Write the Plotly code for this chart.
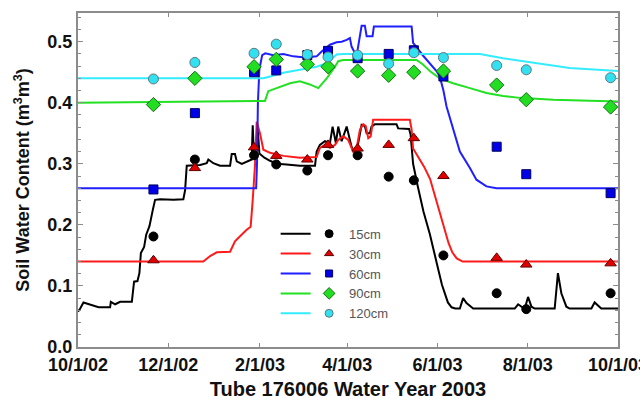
import pandas as pd
import plotly.graph_objects as go

START = pd.Timestamp("2002-10-01")
FONT = "Arial, 'Liberation Sans', sans-serif"

# ---------------- observed (neutron probe) values ----------------
obs_dates = ["2002-11-21", "2002-12-19", "2003-01-28", "2003-02-12", "2003-03-05",
             "2003-03-19", "2003-04-08", "2003-04-29", "2003-05-16", "2003-06-05",
             "2003-07-11", "2003-07-31", "2003-09-26"]
obs_15 = [0.181, 0.307, 0.314, 0.299, 0.289, 0.314, 0.314, 0.279, 0.273, 0.150, 0.088, 0.062, 0.088]
obs_30 = [0.142, 0.293, 0.327, 0.313, 0.307, 0.331, 0.325, 0.331, 0.342, 0.280, 0.146, 0.135, 0.137]
obs_60 = [0.258, 0.383, 0.450, 0.453, 0.478, 0.485, 0.473, 0.480, 0.486, 0.443, 0.328, 0.283, 0.252]
obs_90 = [0.397, 0.440, 0.459, 0.471, 0.463, 0.459, 0.452, 0.445, 0.450, 0.452, 0.429, 0.405, 0.393]
obs_120 = [0.439, 0.466, 0.481, 0.496, 0.479, 0.475, 0.478, 0.464, 0.482, 0.474, 0.461, 0.454, 0.441]

# ---------------- simulated series (day offset from 10/1/02, value) ----------------
days_15 = [0, 1.5, 3.7, 8.2, 13.9, 21.7, 22.2, 25.1, 28.5, 36.4, 37.1, 37.9, 40.2, 41.5, 42.5,
           44.7, 46.1, 48.3, 50.6, 52.1, 55.5, 64.5, 71.2, 72.4, 73.5, 76.9, 82.5, 87.0, 88.1,
           91.5, 96.0, 102.8, 103.9, 106.1, 107.3, 110.7, 114.0, 117.4, 118.1, 118.9, 120.3,
           121.4, 122.6, 126.0, 129.8, 134.3, 141.0, 150.0, 160.2, 161.3, 163.5, 166.9, 170.3,
           172.1, 174.3, 175.9, 178.2, 181.6, 184.9, 187.9, 189.4, 191.7, 193.9, 195.1, 197.3,
           198.4, 200.7, 215.3, 216.4, 223.8, 224.8, 225.9, 226.5, 229.5, 233.5, 237.8, 241.0,
           244.0, 246.0, 248.0, 250.0, 252.5, 255.0, 258.1, 260.3, 262.6, 267.1, 295.2, 297.5,
           299.8, 302.0, 304.2, 306.5, 308.7, 322.2, 324.4, 326.7, 330.1, 332.3, 347.0, 349.2,
           353.7, 365]
vals_15 = [0.058, 0.063, 0.073, 0.070, 0.065, 0.065, 0.074, 0.070, 0.074, 0.074, 0.087, 0.107,
           0.108, 0.121, 0.154, 0.164, 0.184, 0.198, 0.225, 0.241, 0.242, 0.241, 0.242, 0.257,
           0.297, 0.297, 0.298, 0.301, 0.307, 0.301, 0.297, 0.297, 0.316, 0.316, 0.304, 0.300,
           0.304, 0.307, 0.363, 0.311, 0.330, 0.360, 0.317, 0.310, 0.305, 0.300, 0.299, 0.297,
           0.297, 0.320, 0.331, 0.337, 0.334, 0.361, 0.334, 0.361, 0.337, 0.361, 0.328, 0.315,
           0.334, 0.364, 0.362, 0.350, 0.350, 0.361, 0.365, 0.365, 0.358, 0.357, 0.348, 0.317,
           0.300, 0.265, 0.222, 0.185, 0.150, 0.122, 0.102, 0.086, 0.073, 0.065, 0.063, 0.063,
           0.080, 0.072, 0.063, 0.063, 0.070, 0.066, 0.063, 0.082, 0.066, 0.063, 0.063, 0.121,
           0.088, 0.066, 0.063, 0.063, 0.073, 0.063, 0.063]

days_30 = [0, 84.7, 89.3, 93.8, 102.8, 106.1, 114.0, 116.7, 118.1, 119.6, 120.8, 123.0, 125.3,
           129.8, 138.8, 150.0, 161.3, 163.5, 166.9, 170.3, 173.7, 175.9, 179.3, 182.7, 186.0,
           188.3, 190.6, 192.8, 194.5, 196.2, 197.8, 199.5, 224.3, 225.5, 226.5, 230.0, 234.0,
           238.0, 241.0, 244.5, 247.5, 250.5, 253.0, 256.0, 260.0, 365]
vals_30 = [0.140, 0.140, 0.149, 0.155, 0.156, 0.173, 0.192, 0.197, 0.241, 0.296, 0.369, 0.350,
           0.323, 0.318, 0.313, 0.310, 0.311, 0.326, 0.331, 0.326, 0.331, 0.339, 0.345, 0.339,
           0.320, 0.326, 0.356, 0.365, 0.362, 0.342, 0.345, 0.372, 0.372, 0.356, 0.325, 0.312,
           0.295, 0.275, 0.250, 0.222, 0.195, 0.170, 0.155, 0.145, 0.140, 0.140]

days_60 = [0, 120.4, 121.0, 121.6, 122.6, 124.5, 126.6, 132.0, 138.8, 145.5, 153.4, 161.3,
           164.7, 170.3, 174.8, 178.2, 181.6, 183.8, 184.9, 188.3, 190.1, 191.7, 193.9, 195.1,
           199.1, 200.0, 225.5, 226.5, 233.3, 237.8, 242.3, 244.5, 247.0, 249.1, 253.5, 258.1,
           264.9, 269.3, 276.1, 282.9, 365]
vals_60 = [0.260, 0.260, 0.300, 0.400, 0.455, 0.478, 0.481, 0.478, 0.480, 0.476, 0.474, 0.476,
           0.484, 0.495, 0.499, 0.500, 0.503, 0.506, 0.492, 0.476, 0.503, 0.526, 0.526, 0.509,
           0.509, 0.525, 0.525, 0.498, 0.477, 0.464, 0.452, 0.443, 0.420, 0.394, 0.356, 0.320,
           0.293, 0.274, 0.263, 0.260, 0.260]

days_90 = [0, 126.4, 128.6, 134.3, 138.8, 143.3, 150.0, 156.7, 162.4, 168.1, 173.7, 175.9,
           179.3, 228.8, 233.0, 237.8, 244.5, 253.5, 264.9, 276.1, 287.3, 298.6, 321.1, 343.6, 365]
vals_90 = [0.400, 0.403, 0.419, 0.424, 0.427, 0.432, 0.435, 0.430, 0.424, 0.440, 0.459, 0.468,
           0.470, 0.470, 0.463, 0.452, 0.440, 0.432, 0.424, 0.416, 0.411, 0.408, 0.405, 0.403, 0.402]

days_120 = [0, 125.3, 129.8, 138.8, 150.0, 161.3, 168.1, 174.8, 179.3, 271.7, 287.3, 309.8, 332.3, 365]
vals_120 = [0.440, 0.440, 0.443, 0.449, 0.454, 0.459, 0.465, 0.479, 0.480, 0.480, 0.473, 0.465,
            0.457, 0.452]

depth_labels = ["15cm", "30cm", "60cm", "90cm", "120cm"]
tick_dates = ["2002-10-01", "2002-12-01", "2003-02-01", "2003-04-01", "2003-06-01",
              "2003-08-01", "2003-10-01"]
tick_labels = ["10/1/02", "12/1/02", "2/1/03", "4/1/03", "6/1/03", "8/1/03", "10/1/03"]


def to_dates(days):
    return START + pd.to_timedelta(days, unit="D")


line_colors = ["#000000", "#ff1a1a", "#1f1fff", "#22e022", "#33ecff"]
marker_fill = ["#000000", "#e00000", "#0000e8", "#22dd22", "#33e0f0"]
marker_edge = ["#000000", "#600000", "#000060", "#127012", "#607880"]
marker_symbols = ["circle", "triangle-up", "square", "diamond", "circle"]
marker_sizes = [9, 10, 9, 11, 10]
legend_marker_sizes = [8, 8, 7, 9, 8]

line_days = [days_15, days_30, days_60, days_90, days_120]
line_vals = [vals_15, vals_30, vals_60, vals_90, vals_120]
obs_vals = [obs_15, obs_30, obs_60, obs_90, obs_120]

fig = go.Figure()
for i in range(5):
    fig.add_trace(go.Scatter(
        x=to_dates(line_days[i]), y=line_vals[i], mode="lines", name=" ",
        line=dict(color=line_colors[i], width=2), legend="legend",
        hoverinfo="skip"))
for i in range(5):
    fig.add_trace(go.Scatter(
        x=pd.to_datetime(obs_dates), y=obs_vals[i], mode="markers", name=depth_labels[i],
        marker=dict(symbol=marker_symbols[i], size=marker_sizes[i], color=marker_fill[i],
                    line=dict(color=marker_edge[i], width=1)),
        showlegend=False))
# legend-only samples (smaller symbols, as in the original legend)
for i in range(5):
    fig.add_trace(go.Scatter(
        x=[None], y=[None], mode="markers", name=depth_labels[i],
        marker=dict(symbol=marker_symbols[i], size=legend_marker_sizes[i], color=marker_fill[i],
                    line=dict(color=marker_edge[i], width=1)),
        legend="legend2"))

axis_common = dict(showline=True, linecolor="#8c8c8c", linewidth=2, showgrid=False,
                   zeroline=False, ticks="inside", tickcolor="#8c8c8c", automargin=False,
                   tickfont=dict(family=FONT, size=18, color="#111111", weight="bold"))

fig.update_layout(
    width=640, height=400,
    margin=dict(l=78, r=22, t=13, b=53, autoexpand=False),
    paper_bgcolor="white", plot_bgcolor="white",
    font=dict(family=FONT),
    xaxis=dict(axis_common, type="date",
               range=["2002-10-01", "2003-10-01"],
               tickvals=pd.to_datetime(tick_dates), ticktext=tick_labels,
               ticklen=4, mirror="allticks", ticklabeloverflow="allow",
               title=dict(text="Tube 176006 Water Year 2003", standoff=12,
                          font=dict(family=FONT, size=20, color="#111111", weight="bold"))),
    yaxis=dict(axis_common, range=[0, 0.547], dtick=0.1, tick0=0, tickformat=".1f",
               ticklen=5, mirror="allticks",
               minor=dict(dtick=0.02, ticks="inside", ticklen=3, tickcolor="#8c8c8c"),
               title=dict(text="Soil Water Content (m<sup>3</sup>m<sup>3</sup>)", standoff=13,
                          font=dict(family=FONT, size=18, color="#111111", weight="bold"))),
    legend=dict(x=0.366, y=0.384, xanchor="left", yanchor="top", bgcolor="rgba(0,0,0,0)",
                font=dict(family=FONT, size=13, color="#555555"), itemwidth=30,
                tracegroupgap=0),
    legend2=dict(x=0.428, y=0.384, xanchor="left", yanchor="top", bgcolor="rgba(0,0,0,0)",
                 font=dict(family=FONT, size=13, color="#555555"), itemwidth=30,
                 tracegroupgap=0),
    showlegend=True,
)

fig.write_html("out.html", config={"displayModeBar": False},
               post_script="document.body.style.margin='0';")
